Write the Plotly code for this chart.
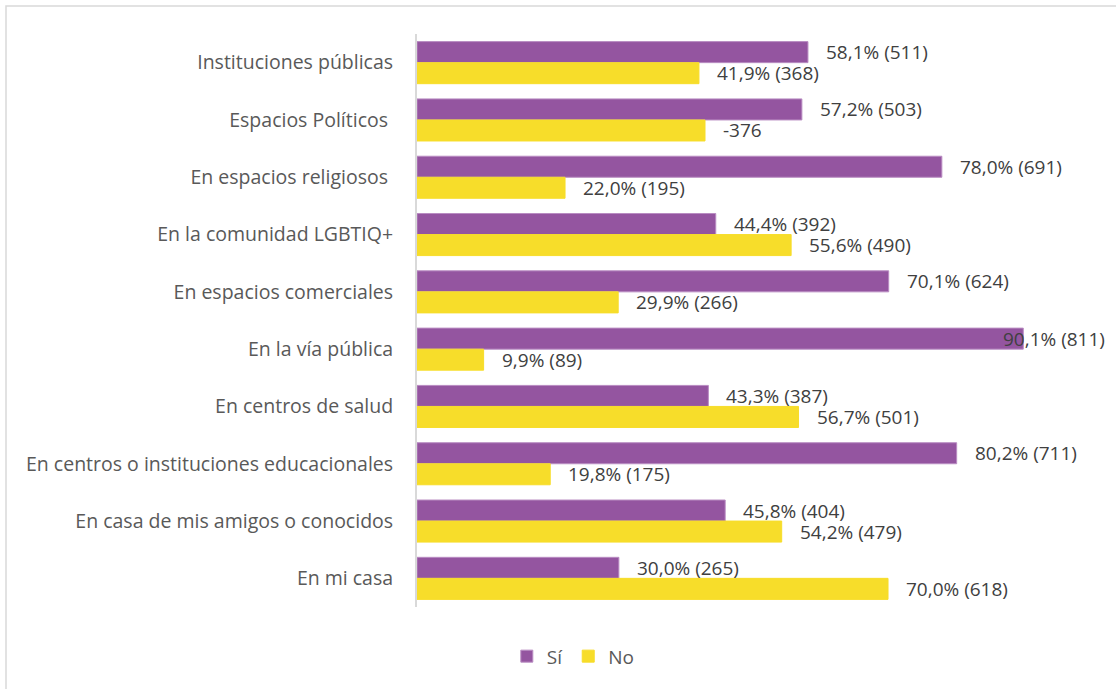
import plotly.graph_objects as go

categorias = [
    'Instituciones públicas',
    'Espacios Políticos ',
    'En espacios religiosos ',
    'En la comunidad LGBTIQ+',
    'En espacios comerciales',
    'En la vía pública',
    'En centros de salud',
    'En centros o instituciones educacionales',
    'En casa de mis amigos o conocidos',
    'En mi casa',
]
si_pct = [58.1, 57.2, 78.0, 44.4, 70.1, 90.1, 43.3, 80.2, 45.8, 30.0]
no_pct = [41.9, 42.8, 22.0, 55.6, 29.9, 9.9, 56.7, 19.8, 54.2, 70.0]
si_labels = ['58,1% (511)', '57,2% (503)', '78,0% (691)', '44,4% (392)', '70,1% (624)',
             '90,1% (811)', '43,3% (387)', '80,2% (711)', '45,8% (404)', '30,0% (265)']
no_labels = ['41,9% (368)', '-376', '22,0% (195)', '55,6% (490)', '29,9% (266)',
             '9,9% (89)', '56,7% (501)', '19,8% (175)', '54,2% (479)', '70,0% (618)']

PURPLE = '#9455A0'
YELLOW = '#F7DD2A'
TXT = '#404040'
LBL = '#595959'
FONT = 'Open Sans'

fig = go.Figure()
fig.add_trace(go.Bar(
    y=categorias, x=si_pct, name='Sí', orientation='h',
    marker=dict(color=PURPLE, line=dict(color='#B98CC2', width=1)),
))
fig.add_trace(go.Bar(
    y=categorias, x=no_pct, name='No', orientation='h',
    marker=dict(color=YELLOW, line=dict(color=YELLOW, width=1)),
))

# data labels: right of each bar, nudged up/down to sit on its own bar
for vals, labels, dy in [(si_pct, si_labels, 10.5), (no_pct, no_labels, -10.5)]:
    for cat, v, lab in zip(categorias, vals, labels):
        fig.add_annotation(
            x=v, y=cat, text=lab, showarrow=False,
            xanchor='left', yanchor='middle', yshift=dy,
            xshift=16 if v < 85 else -22,
            font=dict(family=FONT, size=19, color=TXT),
        )

fig.update_layout(
    width=1116, height=689,
    barmode='group', bargap=0.266, bargroupgap=0,
    plot_bgcolor='white', paper_bgcolor='white',
    margin=dict(l=417, r=86, t=34, b=82),
    font=dict(family=FONT, size=19, color=LBL),
    xaxis=dict(range=[0, 91.1], visible=False, showgrid=False, zeroline=False),
    yaxis=dict(autorange='reversed', showline=True, linecolor='#D9D9D9', linewidth=2,
               ticks='', showgrid=False, ticklabelstandoff=18,
               tickfont=dict(family=FONT, size=19.5, color=LBL)),
    legend=dict(orientation='h', x=0.255, xanchor='center', y=-0.086, yanchor='middle',
                traceorder='normal', font=dict(family=FONT, size=19, color=LBL)),
    showlegend=True,
    shapes=[dict(type='rect', xref='paper', yref='paper',
                 x0=(6 - 417) / 613, x1=(1125 - 417) / 613,
                 y0=(607 - 695) / 573, y1=(607 - 6) / 573,
                 line=dict(color='#D9D9D9', width=1.5), layer='below')],
)

fig.write_html('out.html', config={'displayModeBar': False},
               post_script="document.body.style.margin='0';")
